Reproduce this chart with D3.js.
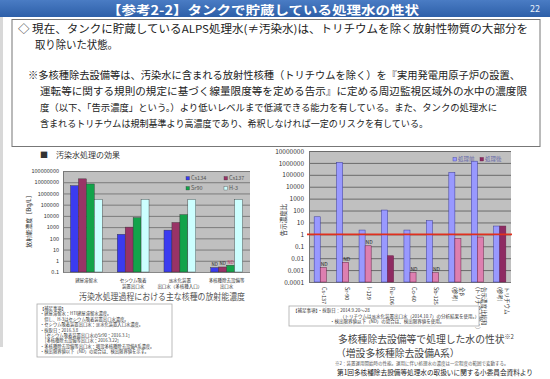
<!DOCTYPE html>
<html>
<head>
<meta charset="utf-8">
<script src="https://cdn.jsdelivr.net/npm/d3@7"></script>
<style>
  body { margin: 0; background: #fff; }
  text { font-family: "Noto Sans CJK JP", "Noto Sans", sans-serif; }
</style>
</head>
<body>
<script>
// ---- data ----
var leftCategories = ["建屋滞留水", "セシウム吸着装置出口水", "淡水化装置出口水", "多核種除去設備等出口水"];
var leftCatLabels = [["建屋滞留水"], ["セシウム吸着", "装置出口水"], ["淡水化装置", "出口水（多核種入口）"], ["多核種除去設備等", "出口水"]];
var nuclides = ["Cs134", "Cs137", "Sr90", "H-3"];
var cs134 = [5000000, 230, 540, 0.25];
var cs137 = [20000000, 1000, 2600, 0.28];
var sr90 = [7000000, 7000, 13000, 0.4];
var h3 = [300000, 300000, 300000, 300000];
var leftND = ["Cs134", "Cs137", "Sr90"]; // ND in last group
var leftTicks = [0.1, 1, 10, 100, 1000, 10000, 100000, 1000000, 10000000, 100000000];
var leftTickLabels = ["0.1", "1", "10", "100", "1000", "10000", "100000", "1000000", "10000000", "100000000"];

var rightCategories = ["Cs-137", "Sr-90", "I-129", "Ru-106", "Co-60", "Sb-125", "全β", "告示濃度比総和", "トリチウム"];
var rightCatLabels = [["Cs-137"], ["Sr-90"], ["I-129"], ["Ru-106"], ["Co-60"], ["Sb-125"], ["全β", "(参考)"], ["告示濃度比総和", "(トリチウム除く)"], ["トリチウム", "(参考)"]];
var before = [30, 1100000, 2.3, 110, 2.3, 14, 160000, 1400000, 5];
var after = [0.0016, 0.0045, 0.11, 0.016, 0.0006, 0.0006, 0.45, 0.6, 5];
var afterND = ["Cs-137", "Sr-90", "I-129", "Co-60", "Sb-125"];
var afterDark = ["Ru-106", "トリチウム"];
var rightTicks = [0.0001, 0.001, 0.01, 0.1, 1, 10, 100, 1000, 10000, 100000, 1000000, 10000000];
var rightTickLabels = ["0.0001", "0.001", "0.01", "0.1", "1", "10", "100", "1000", "10000", "100000", "1000000", "10000000"];
var limitRatio = 1;

var W = 550, H = 379;
var svg = d3.select("body").append("svg").attr("width", W).attr("height", H);

// ---- header ----
var grad = svg.append("defs").append("linearGradient").attr("id", "hdr").attr("x1", 0).attr("y1", 0).attr("x2", 0).attr("y2", 1);
grad.append("stop").attr("offset", 0).attr("stop-color", "#4a7cc4");
grad.append("stop").attr("offset", 1).attr("stop-color", "#2d5fa8");
svg.append("rect").attr("x", 0).attr("y", 0).attr("width", W).attr("height", 17).attr("fill", "url(#hdr)");
svg.append("text").attr("x", 107).attr("y", 14.5).attr("fill", "#fff")
  .attr("font-size", 12.5).attr("font-weight", "bold")
  .attr("textLength", 312).attr("lengthAdjust", "spacingAndGlyphs")
  .text("【参考2-2】タンクで貯蔵している処理水の性状");
svg.append("text").attr("x", 530).attr("y", 12).attr("fill", "#e8eef8").attr("font-size", 9).text("22");

// left edge shade
svg.append("rect").attr("x", 0).attr("y", 17).attr("width", 3).attr("height", 330).attr("fill", "#d8d8d8");

// ---- text box ----
svg.append("rect").attr("x", 12).attr("y", 19.5).attr("width", 528).attr("height", 127)
  .attr("fill", "none").attr("stroke", "#777").attr("stroke-width", 1);

var bodyLines = [
  { x: 18, y: 33, w: 510, t: "◇ 現在、タンクに貯蔵しているALPS処理水(≠汚染水)は、トリチウムを除く放射性物質の大部分を", s: 11 },
  { x: 35, y: 49, w: 83, t: "取り除いた状態。", s: 11 },
  { x: 28, y: 79, w: 492, t: "※多核種除去設備等は、汚染水に含まれる放射性核種（トリチウムを除く）を『実用発電用原子炉の設置、", s: 10.4 },
  { x: 40, y: 95, w: 487, t: "運転等に関する規則の規定に基づく線量限度等を定める告示』に定める周辺監視区域外の水中の濃度限", s: 10.4 },
  { x: 40, y: 111, w: 457, t: "度（以下、「告示濃度」という。）より低いレベルまで低減できる能力を有している。また、タンクの処理水に", s: 9.6 },
  { x: 40, y: 127, w: 388, t: "含まれるトリチウムは規制基準より高濃度であり、希釈しなければ一定のリスクを有している。", s: 9.6 }
];
svg.selectAll("text.body").data(bodyLines).enter().append("text")
  .attr("class", "body")
  .attr("x", d => d.x).attr("y", d => d.y)
  .attr("font-size", d => d.s).attr("fill", "#222")
  .attr("textLength", d => d.w).attr("lengthAdjust", "spacingAndGlyphs")
  .text(d => d.t);

// ================= LEFT CHART =================
svg.append("text").attr("x", 40).attr("y", 158).attr("font-size", 8).attr("fill", "#333")
  .text("■　汚染水処理の効果");

var lx0 = 63, lx1 = 250, ly0 = 171, ly1 = 272;
var lx = d3.scaleBand().domain(leftCategories).range([lx0, lx1]).paddingInner(0.32).paddingOuter(0.16);
var lsub = d3.scaleBand().domain(nuclides).range([0, lx.bandwidth()]);
var ly = d3.scaleLog().domain([0.1, 100000000]).range([ly1, ly0]);
var leftColors = d3.scaleOrdinal().domain(nuclides).range(["#3b3bf0", "#993366", "#13a34a", "#ccffff"]);

var lg = svg.append("g");
lg.append("rect").attr("x", lx0).attr("y", ly0).attr("width", lx1 - lx0).attr("height", ly1 - ly0)
  .attr("fill", "#c0c0c0");
lg.append("g").attr("transform", `translate(${lx0},0)`)
  .call(d3.axisLeft(ly).tickValues(leftTicks).tickSize(-(lx1 - lx0)).tickFormat(""))
  .call(g => g.selectAll("line").attr("stroke", "#6a6a6a").attr("stroke-width", 0.8))
  .call(g => g.select(".domain").remove());
lg.append("g").attr("transform", `translate(${lx0},0)`)
  .call(d3.axisLeft(ly).tickValues(leftTicks).tickSize(0).tickPadding(4)
    .tickFormat((d, i) => leftTickLabels[i]))
  .call(g => g.selectAll("text").attr("font-size", 5.5).attr("fill", "#333").attr("font-family", "Liberation Sans, sans-serif"))
  .call(g => g.select(".domain").attr("stroke", "#777"));

var leftSeries = [cs134, cs137, sr90, h3];
var leftRows = [];
leftCategories.forEach(function(c, i) {
  nuclides.forEach(function(n, j) {
    leftRows.push({ cat: c, nuc: n, value: leftSeries[j][i], idx: i });
  });
});
lg.selectAll("rect.bar").data(leftRows).enter().append("rect")
  .attr("class", "bar")
  .attr("x", d => lx(d.cat) + lsub(d.nuc))
  .attr("y", d => ly(d.value))
  .attr("width", lsub.bandwidth())
  .attr("height", d => ly1 - ly(d.value))
  .attr("fill", d => leftColors(d.nuc))
  .attr("stroke", "#333").attr("stroke-width", 0.4);

// ND labels on last group
lg.selectAll("text.nd").data(leftRows.filter(d => d.idx === 3 && leftND.indexOf(d.nuc) >= 0)).enter()
  .append("text").attr("class", "nd")
  .attr("x", d => lx(d.cat) + lsub(d.nuc) + lsub.bandwidth() / 2)
  .attr("y", d => ly(d.value) - 1.5)
  .attr("text-anchor", "middle").attr("font-size", 4.5)
  .attr("fill", d => d.nuc === "Sr90" ? "#c03060" : "#222")
  .attr("font-family", "Liberation Sans, sans-serif")
  .text("ND");

// legend
var legPos = [[186, 180], [224, 180], [186, 190], [224, 190]];
var leg = lg.selectAll("g.leg").data(nuclides).enter().append("g")
  .attr("class", "leg").attr("transform", (d, i) => `translate(${legPos[i][0]},${legPos[i][1]})`);
leg.append("rect").attr("x", 0).attr("y", -3.5).attr("width", 3.5).attr("height", 3.5)
  .attr("fill", d => leftColors(d)).attr("stroke", "#333").attr("stroke-width", 0.3);
leg.append("text").attr("x", 5).attr("y", 0).attr("font-size", 5.5).attr("fill", "#555")
  .attr("font-family", "Liberation Sans, sans-serif").text(d => d);

// x labels
leftCategories.forEach(function(c, i) {
  var t = lg.append("text").attr("text-anchor", "middle").attr("font-size", 4.5).attr("fill", "#333");
  leftCatLabels[i].forEach(function(line, k) {
    t.append("tspan").attr("x", lx(c) + lx.bandwidth() / 2).attr("y", 282 + k * 6).text(line);
  });
});

// y title
lg.append("text").attr("transform", "translate(31,220) rotate(-90)")
  .attr("text-anchor", "middle").attr("font-size", 6).attr("fill", "#333")
  .text("放射能濃度［Bq/L］");

svg.append("text").attr("x", 79).attr("y", 300).attr("font-size", 9).attr("fill", "#555")
  .attr("textLength", 166).attr("lengthAdjust", "spacingAndGlyphs")
  .text("汚染水処理過程における主な核種の放射能濃度");

// notes box left
svg.append("rect").attr("x", 37).attr("y", 304).attr("width", 135).attr("height", 53)
  .attr("fill", "#fff").attr("stroke", "#aaa").attr("stroke-width", 0.8);
var leftNotes = [
  "【補足事項】",
  "・建屋滞留水：HTI建屋滞留水濃度。",
  "　但し、H-3はセシウム吸着装置出口水濃度。",
  "・セシウム吸着装置出口水：淡水化装置入口水濃度。",
  "・採取日：2016.3.8",
  "　［セシウム吸着装置出口水のSr90：2016.3.1］",
  "　［多核種除去設備等出口水：2016.3.22］",
  "・多核種除去設備等出口水：増設多核種除去設備A系濃度。",
  "・検出限界値以下（ND）の場合は、検出限界値を示す。"
];
svg.selectAll("text.lnote").data(leftNotes).enter().append("text").attr("class", "lnote")
  .attr("x", 40).attr("y", (d, i) => 310 + i * 5.4).attr("font-size", 4.3).attr("fill", "#333")
  .text(d => d);

// ================= RIGHT CHART =================
var rx0 = 309, rx1 = 511, ry0 = 151, ry1 = 282;
var rx = d3.scaleBand().domain(rightCategories).range([rx0, rx1]).paddingInner(0.46).paddingOuter(0.23);
var rsub = d3.scaleBand().domain(["before", "after"]).range([0, rx.bandwidth()]);
var ry = d3.scaleLog().domain([0.0001, 10000000]).range([ry1, ry0]);

var rg = svg.append("g");
rg.append("rect").attr("x", rx0).attr("y", ry0).attr("width", rx1 - rx0).attr("height", ry1 - ry0)
  .attr("fill", "#c0c0c0");
rg.append("g").attr("transform", `translate(${rx0},0)`)
  .call(d3.axisLeft(ry).tickValues(rightTicks).tickSize(-(rx1 - rx0)).tickFormat(""))
  .call(g => g.selectAll("line").attr("stroke", "#555").attr("stroke-width", 0.8))
  .call(g => g.select(".domain").remove());
rg.append("g").attr("transform", `translate(${rx0},0)`)
  .call(d3.axisLeft(ry).tickValues(rightTicks).tickSize(0).tickPadding(5)
    .tickFormat((d, i) => rightTickLabels[i]))
  .call(g => g.selectAll("text").attr("font-size", 6.5).attr("fill", "#333").attr("font-family", "Liberation Sans, sans-serif"))
  .call(g => g.select(".domain").attr("stroke", "#777"));

var rightRows = [];
rightCategories.forEach(function(c, i) {
  rightRows.push({ cat: c, key: "before", value: before[i] });
  rightRows.push({ cat: c, key: "after", value: after[i] });
});
rg.selectAll("rect.bar").data(rightRows).enter().append("rect")
  .attr("class", "bar")
  .attr("x", d => rx(d.cat) + rsub(d.key))
  .attr("y", d => ry(d.value))
  .attr("width", rsub.bandwidth())
  .attr("height", d => ry1 - ry(d.value))
  .attr("fill", d => d.key === "before" ? "#9999ff" : (afterDark.indexOf(d.cat) >= 0 ? "#8e2a62" : "#dd7fb0"))
  .attr("stroke", d => d.key === "before" ? "#3a3a9a" : "#6a2048").attr("stroke-width", 0.5);

rg.selectAll("text.nd").data(rightRows.filter(d => d.key === "after" && afterND.indexOf(d.cat) >= 0)).enter()
  .append("text").attr("class", "nd")
  .attr("x", d => rx(d.cat) + rsub(d.key) + rsub.bandwidth() / 2 + 1)
  .attr("y", d => ry(d.value) - 1.5)
  .attr("text-anchor", "middle").attr("font-size", 5).attr("fill", "#222")
  .attr("font-family", "Liberation Sans, sans-serif")
  .text("ND");

// limit line at ratio 1
rg.append("line").attr("x1", rx0 - 2).attr("x2", rx1 + 1)
  .attr("y1", ry(limitRatio)).attr("y2", ry(limitRatio))
  .attr("stroke", "#e0301e").attr("stroke-width", 1.6);

// legend
var rleg = [["処理前", "#9999ff", "#3a3a9a", 453], ["処理後", "#8e2a62", "#6a2048", 480]];
rleg.forEach(function(l) {
  rg.append("rect").attr("x", l[3]).attr("y", 157.5).attr("width", 3.5).attr("height", 3.5)
    .attr("fill", l[1]).attr("stroke", l[2]).attr("stroke-width", 0.4);
  rg.append("text").attr("x", l[3] + 5).attr("y", 161).attr("font-size", 5.5).attr("fill", "#6a6aa8").text(l[0]);
});

// rotated x labels
rightCategories.forEach(function(c, i) {
  var lines = rightCatLabels[i];
  var cx = rx(c) + rx.bandwidth() / 2 + (lines.length - 1) * 3 + 2;
  var t = rg.append("text").attr("transform", `translate(${cx},287) rotate(90)`)
    .attr("font-size", 5.5).attr("fill", "#333");
  lines.forEach(function(line, k) {
    t.append("tspan").attr("x", 0).attr("y", k * 6.5).text(line);
  });
});

// y title
rg.append("text").attr("transform", "translate(286,220) rotate(-90)")
  .attr("text-anchor", "middle").attr("font-size", 6.5).attr("fill", "#333")
  .text("告示濃度比");

// notes box right
svg.append("rect").attr("x", 289).attr("y", 306).attr("width", 190).attr("height", 20)
  .attr("fill", "#fff").attr("stroke", "#aaa").attr("stroke-width", 0.8);
var rightNotes = [
  [293, "【補足事項】・採取日：2014.9.20～28"],
  [340, "（トリチウムは淡水化装置出口水（2014.10.7）の分析結果を使用。）"],
  [330, "・検出限界値以下（ND）の場合は、検出限界値を使用。"]
];
svg.selectAll("text.rnote").data(rightNotes).enter().append("text").attr("class", "rnote")
  .attr("x", d => d[0]).attr("y", (d, i) => 312 + i * 5.5).attr("font-size", 4.5).attr("fill", "#333")
  .text(d => d[1]);

svg.append("text").attr("x", 338).attr("y", 343).attr("font-size", 9.8).attr("fill", "#444")
  .text("多核種除去設備等で処理した水の性状").append("tspan").attr("dy", -4).attr("font-size", 6).text("※2");
svg.append("text").attr("x", 336).attr("y", 357).attr("font-size", 9.8).attr("fill", "#444")
  .text("（増設多核種除去設備A系）");
svg.append("text").attr("x", 335).attr("y", 365).attr("font-size", 4.5).attr("fill", "#555")
  .text("※2：装置運用開始時の性能。運用に伴い処理水の濃度は一定程度の範囲で変動する。");
svg.append("text").attr("x", 337).attr("y", 375).attr("font-size", 7.2).attr("fill", "#222")
  .attr("textLength", 196).attr("lengthAdjust", "spacingAndGlyphs")
  .text("第1回多核種除去設備等処理水の取扱いに関する小委員会資料より");
</script>
</body>
</html>
